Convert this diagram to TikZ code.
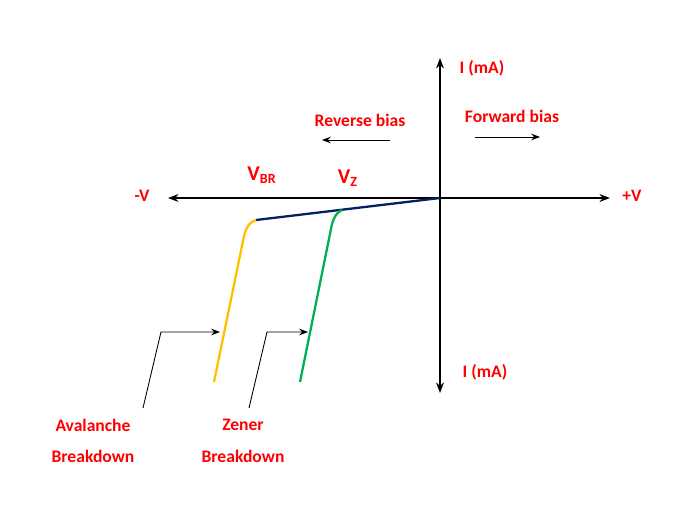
\documentclass[tikz,border=0pt]{standalone}
\usepackage{fontspec}
\setmainfont{Carlito}
\usetikzlibrary{arrows.meta}
\definecolor{lbl}{RGB}{255,0,0}
\definecolor{aval}{RGB}{255,192,0}
\definecolor{zen}{RGB}{0,176,80}
\definecolor{navyc}{RGB}{0,32,96}
\begin{document}
\begin{tikzpicture}[x=0.02cm,y=-0.02cm,
  lab/.style={text=lbl,font=\bfseries\fontsize{10}{12}\selectfont,inner sep=0pt},
  ax/.style={line width=0.8pt,{Stealth[length=6pt]}-{Stealth[length=6pt]}},
  ptr/.style={line width=0.5pt,-{Stealth[length=5pt]}},
  bias/.style={line width=0.5pt,-{Stealth[length=5pt]}}]
\useasboundingbox (0,0) rectangle (687,521);
\coordinate (L) at (168,198); \coordinate (R) at (610,198);
\coordinate (T) at (440,58); \coordinate (B) at (440,393);
\coordinate (O) at (440,198);
\draw[ax] (L) -- (R);
\draw[ax] (T) -- (B);
\node[lab] (im1) at (482,68) {I (mA)};
\node[lab] (im2) at (485,372) {I (mA)};
\node[lab] (mv) at (142,196) {-V};
\node[lab] (pv) at (632,196) {+V};
\node[lab] (rb) at (360,120) {Reverse bias};
\node[lab] (fb) at (512,116) {Forward bias};
\coordinate (rb1) at (390,140); \coordinate (rb2) at (322,140);
\coordinate (fb1) at (475,137); \coordinate (fb2) at (540,137);
\draw[bias] (rb1) -- (rb2);
\draw[bias] (fb1) -- (fb2);
\node[lab,font=\bfseries\fontsize{12}{14}\selectfont] (vbr) at (262,175) {V\textsubscript{BR}};
\node[lab,font=\bfseries\fontsize{12}{14}\selectfont] (vz) at (348,178) {V\textsubscript{Z}};
\coordinate (a0) at (256,220); \coordinate (a1) at (214,382);
\coordinate (z0) at (342,210); \coordinate (z1) at (300,382);
\draw[navyc,line width=1.3pt] (O) -- (a0);
\draw[aval,line width=1.3pt] (a0) .. controls (249,222) and (246,228) .. (244,236) -- (a1);
\draw[zen,line width=1.3pt] (z0) .. controls (337,212) and (334,217) .. (332,224) -- (z1);
\coordinate (p1a) at (143,408); \coordinate (p1b) at (161,332); \coordinate (p1c) at (220,332);
\coordinate (p2a) at (249,408); \coordinate (p2b) at (267,332); \coordinate (p2c) at (308,332);
\draw[ptr] (p1a) -- (p1b) -- (p1c);
\draw[ptr] (p2a) -- (p2b) -- (p2c);
\node[lab,align=center] (av) at (93,441) {Avalanche\\[6pt]Breakdown};
\node[lab,align=center] (zb) at (243,441) {Zener\\[6pt]Breakdown};
\end{tikzpicture}
\end{document}
